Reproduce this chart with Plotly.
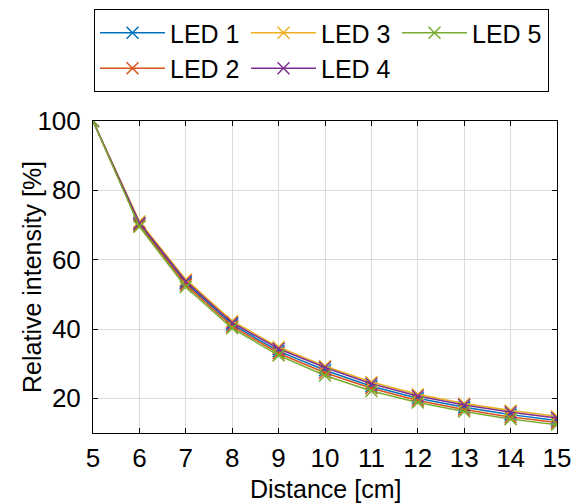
import plotly.graph_objects as go

distance = [5, 6, 7, 8, 9, 10, 11, 12, 13, 14, 15]
led1 = [100, 70.2, 53.3, 41.3, 33.6, 28.1, 23.5, 20.0, 17.4, 15.3, 13.6]
led2 = [100, 69.9, 52.8, 40.8, 33.0, 27.4, 22.9, 19.4, 16.8, 14.6, 13.0]
led3 = [100, 71.0, 54.3, 42.3, 34.8, 29.3, 24.7, 21.2, 18.5, 16.5, 14.8]
led4 = [100, 70.6, 53.8, 41.8, 34.3, 28.9, 24.2, 20.7, 18.1, 16.0, 14.3]
led5 = [100, 69.5, 52.1, 40.2, 32.4, 26.6, 22.1, 18.8, 16.2, 14.0, 12.4]

names = ["LED 1", "LED 2", "LED 3", "LED 4", "LED 5"]
series = [led1, led2, led3, led4, led5]
colors = ["#0072BD", "#D95319", "#EDB120", "#7E2F8E", "#77AC30"]
ranks = [1, 4, 2, 5, 3]

fig = go.Figure()
for n, s, c, r in zip(names, series, colors, ranks):
    fig.add_trace(go.Scatter(
        x=distance, y=s, name=n, mode="lines+markers",
        line=dict(color=c, width=1.5),
        marker=dict(symbol="x-thin", size=12, line=dict(color=c, width=1.5)),
        legendrank=r,
    ))

font = "Liberation Sans, Arial, sans-serif"
axis_common = dict(
    showline=True, linecolor="black", linewidth=1, mirror="ticks",
    ticks="inside", ticklen=5, tickcolor="black",
    showgrid=True, gridcolor="#DCDCDC", gridwidth=1, automargin=False,
    zeroline=False, tickfont=dict(size=26, color="black", family=font),
)
fig.update_xaxes(range=[5, 15], tickvals=distance, ticklabelstandoff=2, **axis_common)
fig.update_yaxes(range=[10, 100], tickvals=[20, 40, 60, 80, 100], ticklabelstandoff=6, **axis_common)

title_font = dict(size=25, color="black", family=font)
fig.add_annotation(text="Distance [cm]", xref="paper", yref="paper", x=0.5, y=-0.180,
                   xanchor="center", yanchor="middle", showarrow=False, font=title_font)
fig.add_annotation(text="Relative intensity [%]", xref="paper", yref="paper", x=-0.1315, y=0.5,
                   xanchor="center", yanchor="middle", textangle=-90, showarrow=False, font=title_font)

fig.update_layout(
    width=576, height=503,
    margin=dict(l=93, r=19, t=121, b=70, autoexpand=False),
    plot_bgcolor="white", paper_bgcolor="white",
    font=dict(family=font, color="black"),
    legend=dict(
        orientation="h", xref="container", yref="container",
        x=94 / 576, xanchor="left", y=1 - 9 / 503, yanchor="top",
        bordercolor="black", borderwidth=1, bgcolor="white",
        font=dict(size=25, color="black", family=font),
        entrywidth=71, entrywidthmode="pixels", traceorder="normal",
        itemwidth=65, tracegroupgap=0,
    ),
    showlegend=True,
)

fig.write_html("out.html")
